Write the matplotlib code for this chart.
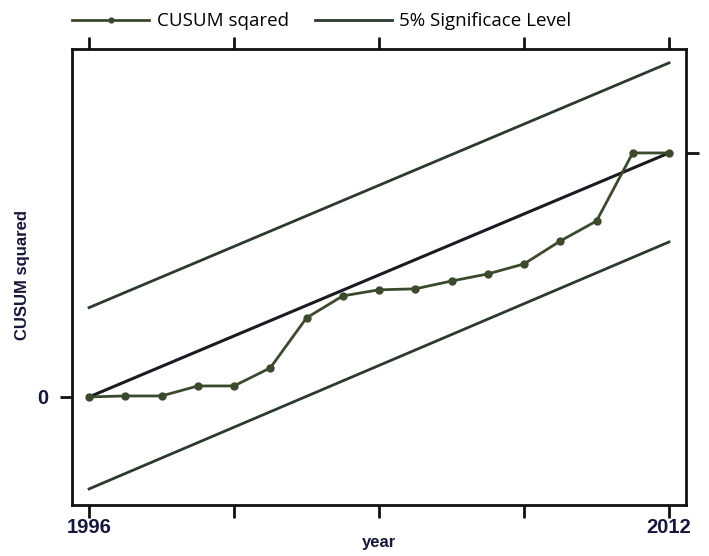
import matplotlib
matplotlib.use('Agg')
import matplotlib.pyplot as plt
from matplotlib.lines import Line2D

# datos
anios = [1996, 1997, 1998, 1999, 2000, 2001, 2002, 2003, 2004,
         2005, 2006, 2007, 2008, 2009, 2010, 2011, 2012]
cusum_sq = [0.0, 0.004, 0.004, 0.045, 0.045, 0.119, 0.324, 0.414, 0.439,
            0.443, 0.475, 0.504, 0.545, 0.639, 0.721, 1.0, 1.0]

# extremos de las rectas
anios_lin = [1996, 2012]
media = [0.0, 1.0]
banda_sup = [0.366, 1.369]
banda_inf = [-0.377, 0.635]

ticks_x = [1996, 2000, 2004, 2008, 2012]
etiq_x = ['1996', '', '', '', '2012']

c_cusum = '#3b4a2c'
c_banda = '#2c3a2e'
c_texto = '#16173a'

fig = plt.figure(figsize=(7.09, 5.56), dpi=100)
ax = fig.add_axes([0.1016, 0.0917, 0.8660, 0.8202])

ax.plot(anios_lin, banda_sup, color=c_banda, lw=2)
ax.plot(anios_lin, banda_inf, color=c_banda, lw=2)
ax.plot(anios_lin, media, color='#1a1a22', lw=2.2)
ax.plot(anios, cusum_sq, color=c_cusum, lw=2, marker='o', ms=5, mfc=c_cusum, mec=c_cusum)

ax.set_xlim(1995.53, 2012.47)
ax.set_ylim(-0.443, 1.426)

for s in ax.spines.values():
    s.set_linewidth(2)
    s.set_color('#111111')

ax.set_xticks(ticks_x)
ax.set_xticklabels(etiq_x)
ax.set_yticks([0])
ax.set_yticklabels(['0'])
ax.tick_params(axis='both', direction='out', length=9, width=2, color='#111111',
               labelsize=14.5, labelcolor=c_texto, pad=0.5)
for t in ax.get_xticklabels() + ax.get_yticklabels():
    t.set_fontfamily('Liberation Sans')
    t.set_fontweight('bold')
ax.tick_params(axis='y', pad=8)

# eje superior con ticks sin etiquetas
ax_top = ax.secondary_xaxis('top')
ax_top.set_xticks(ticks_x)
ax_top.set_xticklabels([])
ax_top.tick_params(direction='out', length=9, width=2, color='#111111')
ax_top.spines['top'].set_visible(False)

# eje derecho con el tick en 1 (la etiqueta queda cortada en el borde)
ax_der = ax.secondary_yaxis('right')
ax_der.set_yticks([1])
ax_der.set_yticklabels(['1'])
ax_der.tick_params(direction='out', length=9, width=2, color='#111111',
                   labelsize=14.5, labelcolor=c_texto, pad=9)
ax_der.spines['right'].set_visible(False)

ax.set_xlabel('year', fontsize=12, fontweight='bold', color=c_texto,
              family='Liberation Sans')
ax.xaxis.set_label_coords(0.5, -0.066)
ax.set_ylabel('CUSUM squared', fontsize=12, fontweight='bold', color=c_texto,
              family='Liberation Sans')
ax.yaxis.set_label_coords(-0.068, 0.505)

# leyenda arriba
h1 = Line2D([], [], color=c_cusum, lw=2, marker='o', ms=3.5, markevery=[1])
h2 = Line2D([], [], color=c_banda, lw=2)
fig.legend([h1, h2], ['CUSUM sqared', '5% Significace Level'],
           loc='center left', bbox_to_anchor=(0.078, 0.962), ncol=2, frameon=False,
           prop={'family': 'Open Sans', 'size': 13.5}, handlelength=4.1,
           handletextpad=0.4, columnspacing=1.4)

plt.savefig('out.png', dpi=100)
